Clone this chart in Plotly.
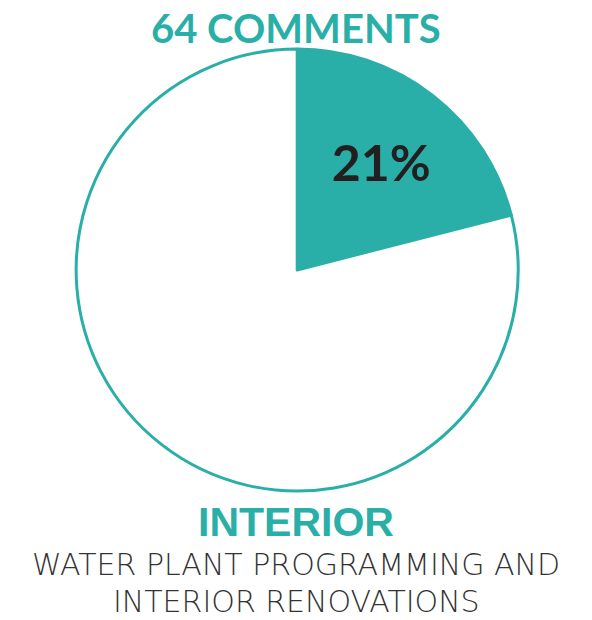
import plotly.graph_objects as go

labels = ["Interior", "Other"]
values = [21, 79]
slice_text = ["21%", ""]
title_text = "64 COMMENTS"
category_text = "INTERIOR"
subtitle_lines = ["WATER PLANT PROGRAMMING AND", "INTERIOR RENOVATIONS"]
teal = "#2AAFA8"

fig = go.Figure(go.Pie(
    labels=labels, values=values, text=slice_text,
    textinfo="text", textposition="inside",
    insidetextfont=dict(family="Lato", size=50, color="#231F20", weight=700),
    marker=dict(colors=[teal, "white"], line=dict(color=teal, width=3)),
    sort=False, direction="clockwise", rotation=0,
    domain=dict(x=[0.128, 0.876], y=[0.208, 0.921]),
    showlegend=False, hoverinfo="skip",
))

annotations = [
    dict(text="<b>" + title_text + "</b>", x=0.5, y=1 - 28 / 620, xref="paper", yref="paper",
         showarrow=False, font=dict(family="Lato", size=40, color=teal), yanchor="middle"),
    dict(text="<b>" + category_text + "</b>", x=0.5, y=1 - 522 / 620, xref="paper", yref="paper",
         showarrow=False, font=dict(family="Liberation Sans", size=41, color=teal), yanchor="middle"),
]
for line, ypx in zip(subtitle_lines, [564, 601]):
    annotations.append(dict(text=line, x=0.5, y=1 - ypx / 620, xref="paper", yref="paper",
                            showarrow=False, yanchor="middle",
                            font=dict(family="DejaVu Sans", size=30, color="#333333", weight=200)))

fig.update_layout(
    width=592, height=620, margin=dict(l=0, r=0, t=0, b=0),
    paper_bgcolor="white", plot_bgcolor="white",
    annotations=annotations,
)
fig.write_html("out.html", config={"displayModeBar": False},
               post_script="document.body.style.margin='0';document.body.style.overflow='hidden';")
